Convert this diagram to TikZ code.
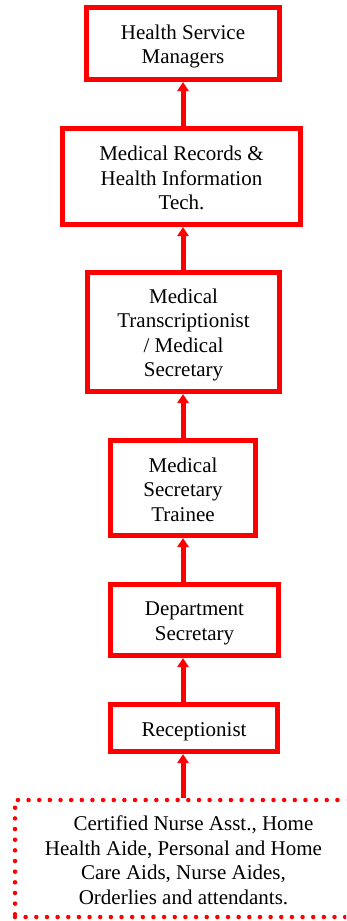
\documentclass[tikz,border=0pt]{standalone}
\usepackage{fontspec}
\setmainfont{Liberation Serif}
\usetikzlibrary{arrows.meta}

\definecolor{chartred}{RGB}{255,0,0}

% every text block is set as whole lines of 24.5pt (21pt above, 3.5pt below the baseline)
\newcommand\lineTop{\rule{0pt}{21pt}}
\newcommand\lineBottom{\rule[-3.5pt]{0pt}{3.5pt}}
\newcommand\boxtext[1]{\lineTop#1\lineBottom}

\tikzset{
  labeltext/.style={align=center, inner sep=0pt,
    font=\fontsize{21}{24.5}\selectfont},
  career/.style={labeltext, draw=chartred, line width=5pt, fill=white},
  entry/.style={labeltext, draw=chartred, line width=4.5pt, line cap=round,
    dash pattern=on 0pt off 10.65pt},
  promo/.style={draw=chartred, line width=5pt,
    -{Triangle[width=11pt,length=9pt]}},
}

\begin{document}
\begin{tikzpicture}[x=1pt,y=-1pt]
  \useasboundingbox (0,0) rectangle (346,921);
  \clip (0,0) rectangle (346,921);

  % career ladder, top to bottom
  \node[career, minimum width=193pt, minimum height=72pt]  (hsm)  at (183,43.5)
    {\boxtext{Health Service\\Managers}};
  \node[career, minimum width=238pt, minimum height=96pt]  (mrht) at (181.5,176.5)
    {\boxtext{Medical Records \&\\Health Information\\Tech.}};
  \node[career, minimum width=192pt, minimum height=119pt] (mtms) at (183.5,332)
    {\boxtext{Medical\\Transcriptionist\\/ Medical\\Secretary}};
  \node[career, minimum width=145pt, minimum height=95pt]  (mst)  at (183,488)
    {\boxtext{Medical\\Secretary\\Trainee}};
  \node[career, minimum width=168pt, minimum height=71pt]  (ds)   at (194.5,620)
    {\boxtext{Department\\Secretary}};
  \node[career, minimum width=167pt, minimum height=47pt]  (rec)  at (194,728)
    {\boxtext{Receptionist}};

  % entry-level positions (dotted box runs off the right edge)
  \node[entry, minimum width=337pt, minimum height=117pt] (entry) at (183.5,858.5)
    {\boxtext{\hspace*{20pt}Certified Nurse Asst., Home\\Health Aide, Personal and Home\\Care Aids, Nurse Aides,\\Orderlies and attendants.}};

  % promotion arrows along a common vertical axis
  \coordinate (axis) at (183,0);
  \draw[promo] (entry.north -| axis) -- (rec.south  -| axis);
  \draw[promo] (rec.north   -| axis) -- (ds.south   -| axis);
  \draw[promo] (ds.north    -| axis) -- (mst.south  -| axis);
  \draw[promo] (mst.north   -| axis) -- (mtms.south -| axis);
  \draw[promo] (mtms.north  -| axis) -- (mrht.south -| axis);
  \draw[promo] (mrht.north  -| axis) -- (hsm.south  -| axis);
\end{tikzpicture}
\end{document}
